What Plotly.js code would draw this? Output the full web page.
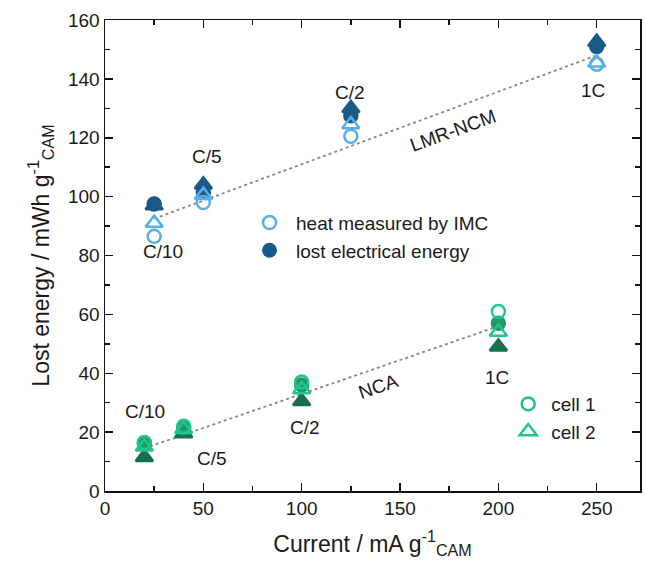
<!DOCTYPE html>
<html><head><meta charset="utf-8">
<script src="https://cdn.plot.ly/plotly-3.0.1.min.js"></script>
<style>html,body{margin:0;padding:0;background:#fff}#chart{width:646px;height:569px}</style>
</head><body><div id="chart"></div>
<script>
// LMR-NCM data
const lmrX = [25, 50, 125, 250];
const lmrHeatCell1 = [86.5, 98, 120.5, 145];
const lmrHeatCell2 = [91, 100.5, 124.5, 145.5];
const lmrLostCell1 = [97.5, 101.5, 127.5, 151];
const lmrLostCell2 = [97, 104, 130, 152.5];
const lmrLabels = ["C/10", "C/5", "C/2", "1C"];
const lmrFitX = [25, 250];
const lmrFitY = [92.5, 148];
// NCA data
const ncaX = [20, 40, 100, 200];
const ncaHeatCell1 = [16.5, 22, 37, 61];
const ncaHeatCell2 = [15, 21, 34.5, 54];
const ncaLostCell1 = [16, 21.5, 36, 57];
const ncaLostCell2 = [11.5, 19.5, 30.5, 49];
const ncaLabels = ["C/10", "C/5", "C/2", "1C"];
const ncaFitX = [20, 200];
const ncaFitY = [14.5, 56];

const lightBlue = '#5aaeea', darkBlue = '#1b5a88';
const lightGreen = '#22c58a', darkGreen = '#17704c', midGreen = '#1f9a68';
const F = 'Liberation Sans, Arial, sans-serif';
const TXT = '#1a1a1a';

function fit(x, y) {
  return {x: x, y: y, mode: 'lines', line: {color: '#888', dash: 'dot', width: 1.8}, showlegend: false, hoverinfo: 'skip'};
}
function pts(x, y, sym, col, open, lw) {
  return {x: x, y: y, mode: 'markers', showlegend: false,
    marker: {symbol: sym + (open ? '-open' : ''), size: sym === 'triangle-up' ? 15 : 13,
      color: col, line: {color: col, width: lw || 2.5}}};
}
const data = [
  fit(lmrFitX, lmrFitY), fit(ncaFitX, ncaFitY),
  pts(lmrX, lmrLostCell2, 'triangle-up', darkBlue, false, 0),
  pts(lmrX, lmrLostCell1, 'circle', darkBlue, false, 0),
  pts(lmrX, lmrHeatCell2, 'triangle-up', lightBlue, true),
  pts(lmrX, lmrHeatCell1, 'circle', lightBlue, true),
  pts(ncaX, ncaLostCell2, 'triangle-up', darkGreen, false, 0),
  pts(ncaX, ncaLostCell1, 'circle', midGreen, false, 0),
  pts(ncaX, ncaHeatCell2, 'triangle-up', lightGreen, true),
  pts(ncaX, ncaHeatCell1, 'circle', lightGreen, true),
  // legend entries
  {x: [null], y: [null], mode: 'markers', name: 'heat measured by IMC', legend: 'legend',
   marker: {symbol: 'circle-open', size: 13, color: lightBlue, line: {width: 2.5, color: lightBlue}}},
  {x: [null], y: [null], mode: 'markers', name: 'lost electrical energy', legend: 'legend',
   marker: {symbol: 'circle', size: 15, color: darkBlue}},
  {x: [null], y: [null], mode: 'markers', name: 'cell 1', legend: 'legend2',
   marker: {symbol: 'circle-open', size: 13, color: lightGreen, line: {width: 2.5, color: lightGreen}}},
  {x: [null], y: [null], mode: 'markers', name: 'cell 2', legend: 'legend2',
   marker: {symbol: 'triangle-up-open', size: 15, color: lightGreen, line: {width: 2.5, color: lightGreen}}}
];

const lmrLabelPos = [[29.5, 81.5], [52, 113.5], [124.5, 135.5], [248, 136]];
const ncaLabelPos = [[20.5, 27], [54.5, 11], [101.5, 21.5], [199.5, 38.5]];
const ann = [];
const af = {size: 19, family: F, color: TXT};
lmrLabels.forEach((t, i) => ann.push({x: lmrLabelPos[i][0], y: lmrLabelPos[i][1], text: t, showarrow: false, font: af}));
ncaLabels.forEach((t, i) => ann.push({x: ncaLabelPos[i][0], y: ncaLabelPos[i][1], text: t, showarrow: false, font: af}));
ann.push({x: 177, y: 122.5, text: 'LMR-NCM', textangle: -20, showarrow: false, font: af});
ann.push({x: 139, y: 35.5, text: 'NCA', textangle: -19, showarrow: false, font: af});

const axBase = {
  showline: true, linecolor: '#111', linewidth: 1.5, mirror: 'ticks',
  ticks: 'inside', ticklen: 8, tickwidth: 1.5, tickcolor: '#111',
  showgrid: false, zeroline: false,
  tickfont: {size: 19, family: F, color: TXT}
};
const layout = {
  width: 646, height: 569,
  margin: {l: 105, r: 6, t: 20, b: 78},
  paper_bgcolor: '#fff', plot_bgcolor: '#fff',
  font: {family: F},
  xaxis: Object.assign({}, axBase, {range: [0, 272], tickvals: [0, 50, 100, 150, 200, 250],
    minor: {tickvals: [25, 75, 125, 175, 225], ticks: 'inside', ticklen: 5, tickwidth: 1.5, tickcolor: '#111'},
    title: {text: 'Current / mA g<sup>-1</sup><sub>CAM</sub>', font: {size: 23, family: F, color: TXT}, standoff: 17}}),
  yaxis: Object.assign({}, axBase, {range: [0, 160], tickvals: [0, 20, 40, 60, 80, 100, 120, 140, 160],
    minor: {tickvals: [10, 30, 50, 70, 90, 110, 130, 150], ticks: 'inside', ticklen: 5, tickwidth: 1.5, tickcolor: '#111'},
    title: {text: 'Lost energy / mWh g<sup>-1</sup><sub>CAM</sub>', font: {size: 23, family: F, color: TXT}, standoff: 12}}),
  legend: {x: 0.258, y: 0.61, xanchor: 'left', yanchor: 'top', bgcolor: 'rgba(0,0,0,0)',
    font: {size: 19, family: F, color: TXT}, tracegroupgap: 0, itemsizing: 'trace', itemwidth: 43},
  legend2: {x: 0.748, y: 0.225, xanchor: 'left', yanchor: 'top', bgcolor: 'rgba(0,0,0,0)',
    font: {size: 19, family: F, color: TXT}, tracegroupgap: 0, itemsizing: 'trace', itemwidth: 36},
  showlegend: true,
  annotations: ann
};
Plotly.newPlot('chart', data, layout, {displayModeBar: false, staticPlot: true});
</script></body></html>
